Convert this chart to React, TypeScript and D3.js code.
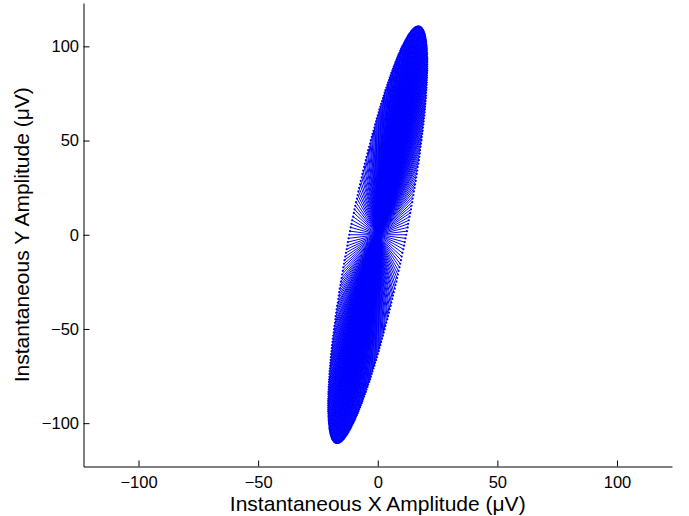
import React, { useEffect, useRef } from "react";
import * as d3 from "d3";

// Axis ticks and limits (µV)
const xTicks = [-100, -50, 0, 50, 100];
const yTicks = [-100, -50, 0, 50, 100];
const xDomain = [-123, 123];
const yDomain = [-123, 123];

// Instantaneous X amplitude samples (µV)
const xSamples = [
  20.7, 20.7, 20.7, 20.7, 20.6, 20.6, 20.6, 20.5, 20.5, 20.4,
  20.4, 20.3, 20.2, 20.2, 20.1, 20.0, 19.9, 19.8, 19.7, 19.6,
  19.5, 19.3, 19.2, 19.1, 18.9, 18.8, 18.6, 18.4, 18.3, 18.1,
  17.9, 17.7, 17.6, 17.4, 17.2, 17.0, 16.7, 16.5, 16.3, 16.1,
  15.9, 15.6, 15.4, 15.1, 14.9, 14.6, 14.4, 14.1, 13.9, 13.6,
  13.3, 13.0, 12.7, 12.5, 12.2, 11.9, 11.6, 11.3, 11.0, 10.7,
  10.3, 10.0, 9.7, 9.4, 9.1, 8.7, 8.4, 8.1, 7.8, 7.4,
  7.1, 6.7, 6.4, 6.1, 5.7, 5.4, 5.0, 4.7, 4.3, 4.0,
  3.6, 3.2, 2.9, 2.5, 2.2, 1.8, 1.4, 1.1, 0.7, 0.4,
  0, -0.4, -0.7, -1.1, -1.4, -1.8, -2.2, -2.5, -2.9, -3.2,
  -3.6, -4.0, -4.3, -4.7, -5.0, -5.4, -5.7, -6.1, -6.4, -6.7,
  -7.1, -7.4, -7.8, -8.1, -8.4, -8.7, -9.1, -9.4, -9.7, -10.0,
  -10.3, -10.7, -11.0, -11.3, -11.6, -11.9, -12.2, -12.5, -12.7, -13.0,
  -13.3, -13.6, -13.9, -14.1, -14.4, -14.6, -14.9, -15.1, -15.4, -15.6,
  -15.9, -16.1, -16.3, -16.5, -16.7, -17.0, -17.2, -17.4, -17.6, -17.7,
  -17.9, -18.1, -18.3, -18.4, -18.6, -18.8, -18.9, -19.1, -19.2, -19.3,
  -19.5, -19.6, -19.7, -19.8, -19.9, -20.0, -20.1, -20.2, -20.2, -20.3,
  -20.4, -20.4, -20.5, -20.5, -20.6, -20.6, -20.6, -20.7, -20.7, -20.7,
  -20.7, -20.7, -20.7, -20.7, -20.6, -20.6, -20.6, -20.5, -20.5, -20.4,
  -20.4, -20.3, -20.2, -20.2, -20.1, -20.0, -19.9, -19.8, -19.7, -19.6,
  -19.5, -19.3, -19.2, -19.1, -18.9, -18.8, -18.6, -18.4, -18.3, -18.1,
  -17.9, -17.7, -17.6, -17.4, -17.2, -17.0, -16.7, -16.5, -16.3, -16.1,
  -15.9, -15.6, -15.4, -15.1, -14.9, -14.6, -14.4, -14.1, -13.9, -13.6,
  -13.3, -13.0, -12.7, -12.5, -12.2, -11.9, -11.6, -11.3, -11.0, -10.7,
  -10.3, -10.0, -9.7, -9.4, -9.1, -8.7, -8.4, -8.1, -7.8, -7.4,
  -7.1, -6.7, -6.4, -6.1, -5.7, -5.4, -5.0, -4.7, -4.3, -4.0,
  -3.6, -3.2, -2.9, -2.5, -2.2, -1.8, -1.4, -1.1, -0.7, -0.4,
  0, 0.4, 0.7, 1.1, 1.4, 1.8, 2.2, 2.5, 2.9, 3.2,
  3.6, 4.0, 4.3, 4.7, 5.0, 5.4, 5.7, 6.1, 6.4, 6.7,
  7.1, 7.4, 7.8, 8.1, 8.4, 8.7, 9.1, 9.4, 9.7, 10.0,
  10.3, 10.7, 11.0, 11.3, 11.6, 11.9, 12.2, 12.5, 12.7, 13.0,
  13.3, 13.6, 13.9, 14.1, 14.4, 14.6, 14.9, 15.1, 15.4, 15.6,
  15.9, 16.1, 16.3, 16.5, 16.7, 17.0, 17.2, 17.4, 17.6, 17.7,
  17.9, 18.1, 18.3, 18.4, 18.6, 18.8, 18.9, 19.1, 19.2, 19.3,
  19.5, 19.6, 19.7, 19.8, 19.9, 20.0, 20.1, 20.2, 20.2, 20.3,
  20.4, 20.4, 20.5, 20.5, 20.6, 20.6, 20.6, 20.7, 20.7, 20.7,
];

// Instantaneous Y amplitude samples (µV)
const ySamples = [
  90.5, 91.6, 92.7, 93.7, 94.7, 95.7, 96.6, 97.6, 98.5, 99.3,
  100.1, 100.9, 101.7, 102.5, 103.2, 103.8, 104.5, 105.1, 105.7, 106.2,
  106.7, 107.2, 107.7, 108.1, 108.5, 108.8, 109.1, 109.4, 109.7, 109.9,
  110.1, 110.2, 110.3, 110.4, 110.5, 110.5, 110.5, 110.4, 110.3, 110.2,
  110.1, 109.9, 109.7, 109.4, 109.1, 108.8, 108.5, 108.1, 107.7, 107.2,
  106.7, 106.2, 105.7, 105.1, 104.5, 103.8, 103.2, 102.5, 101.7, 100.9,
  100.1, 99.3, 98.5, 97.6, 96.6, 95.7, 94.7, 93.7, 92.7, 91.6,
  90.5, 89.4, 88.2, 87.1, 85.9, 84.6, 83.4, 82.1, 80.8, 79.5,
  78.1, 76.8, 75.4, 73.9, 72.5, 71.0, 69.5, 68.0, 66.5, 65.0,
  63.4, 61.8, 60.2, 58.6, 56.9, 55.2, 53.6, 51.9, 50.2, 48.4,
  46.7, 44.9, 43.2, 41.4, 39.6, 37.8, 36.0, 34.1, 32.3, 30.5,
  28.6, 26.7, 24.9, 23.0, 21.1, 19.2, 17.3, 15.4, 13.5, 11.6,
  9.6, 7.7, 5.8, 3.9, 1.9, 0, -1.9, -3.9, -5.8, -7.7,
  -9.6, -11.6, -13.5, -15.4, -17.3, -19.2, -21.1, -23.0, -24.9, -26.7,
  -28.6, -30.5, -32.3, -34.1, -36.0, -37.8, -39.6, -41.4, -43.2, -44.9,
  -46.7, -48.4, -50.2, -51.9, -53.6, -55.2, -56.9, -58.6, -60.2, -61.8,
  -63.4, -65.0, -66.5, -68.0, -69.5, -71.0, -72.5, -73.9, -75.4, -76.8,
  -78.1, -79.5, -80.8, -82.1, -83.4, -84.6, -85.9, -87.1, -88.2, -89.4,
  -90.5, -91.6, -92.7, -93.7, -94.7, -95.7, -96.6, -97.6, -98.5, -99.3,
  -100.1, -100.9, -101.7, -102.5, -103.2, -103.8, -104.5, -105.1, -105.7, -106.2,
  -106.7, -107.2, -107.7, -108.1, -108.5, -108.8, -109.1, -109.4, -109.7, -109.9,
  -110.1, -110.2, -110.3, -110.4, -110.5, -110.5, -110.5, -110.4, -110.3, -110.2,
  -110.1, -109.9, -109.7, -109.4, -109.1, -108.8, -108.5, -108.1, -107.7, -107.2,
  -106.7, -106.2, -105.7, -105.1, -104.5, -103.8, -103.2, -102.5, -101.7, -100.9,
  -100.1, -99.3, -98.5, -97.6, -96.6, -95.7, -94.7, -93.7, -92.7, -91.6,
  -90.5, -89.4, -88.2, -87.1, -85.9, -84.6, -83.4, -82.1, -80.8, -79.5,
  -78.1, -76.8, -75.4, -73.9, -72.5, -71.0, -69.5, -68.0, -66.5, -65.0,
  -63.4, -61.8, -60.2, -58.6, -56.9, -55.2, -53.6, -51.9, -50.2, -48.4,
  -46.7, -44.9, -43.2, -41.4, -39.6, -37.8, -36.0, -34.1, -32.3, -30.5,
  -28.6, -26.7, -24.9, -23.0, -21.1, -19.2, -17.3, -15.4, -13.5, -11.6,
  -9.6, -7.7, -5.8, -3.9, -1.9, 0, 1.9, 3.9, 5.8, 7.7,
  9.6, 11.6, 13.5, 15.4, 17.3, 19.2, 21.1, 23.0, 24.9, 26.7,
  28.6, 30.5, 32.3, 34.1, 36.0, 37.8, 39.6, 41.4, 43.2, 44.9,
  46.7, 48.4, 50.2, 51.9, 53.6, 55.2, 56.9, 58.6, 60.2, 61.8,
  63.4, 65.0, 66.5, 68.0, 69.5, 71.0, 72.5, 73.9, 75.4, 76.8,
  78.1, 79.5, 80.8, 82.1, 83.4, 84.6, 85.9, 87.1, 88.2, 89.4,
];

const xLabel = "Instantaneous X Amplitude (\u03bcV)";
const yLabel = "Instantaneous Y Amplitude (\u03bcV)";

const W = 689;
const H = 516;
const FONT = "'Liberation Sans', Arial, Helvetica, sans-serif";

export default function App() {
  const ref = useRef<SVGSVGElement>(null);

  useEffect(() => {
    const svg = d3.select(ref.current);
    svg.selectAll("*").remove();

    const x = d3.scaleLinear().domain(xDomain).range([83.5, 672]);
    const y = d3.scaleLinear().domain(yDomain).range([466.5, 3]);

    const data = xSamples.map((v, i) => ({ x: v, y: ySamples[i] }));

    const plot = svg.append("g");
    plot
      .selectAll("line.spoke")
      .data(data)
      .join("line")
      .attr("class", "spoke")
      .attr("x1", x(0))
      .attr("y1", y(0))
      .attr("x2", (d) => x(d.x))
      .attr("y2", (d) => y(d.y))
      .attr("stroke", "#0000ff")
      .attr("stroke-width", 1);
    plot
      .selectAll("circle.tip")
      .data(data)
      .join("circle")
      .attr("class", "tip")
      .attr("cx", (d) => x(d.x))
      .attr("cy", (d) => y(d.y))
      .attr("r", 1.1)
      .attr("fill", "#0000ff");

    const fmt = (d: d3.NumberValue) => String(d).replace("-", "\u2212");

    const xAxis = d3
      .axisBottom(x)
      .tickValues(xTicks)
      .tickSizeInner(-6)
      .tickSizeOuter(0)
      .tickPadding(9.5)
      .tickFormat(fmt);
    const gx = svg
      .append("g")
      .attr("transform", `translate(0,${y.range()[0]})`)
      .call(xAxis);

    const yAxis = d3
      .axisLeft(y)
      .tickValues(yTicks)
      .tickSizeInner(-6)
      .tickSizeOuter(0)
      .tickPadding(4.5)
      .tickFormat(fmt);
    const gy = svg
      .append("g")
      .attr("transform", `translate(${x.range()[0]},0)`)
      .call(yAxis);

    [gx, gy].forEach((g) => {
      g.attr("font-family", null).attr("font-size", null);
      g.selectAll("path.domain").attr("stroke", "#000").attr("stroke-width", 1);
      g.selectAll(".tick line").attr("stroke", "#000").attr("stroke-width", 1);
      g.selectAll(".tick text")
        .attr("fill", "#000")
        .style("font-family", FONT)
        .style("font-size", "16.5px");
    });

    svg
      .append("text")
      .attr("x", (x.range()[0] + x.range()[1]) / 2)
      .attr("y", 510.5)
      .attr("text-anchor", "middle")
      .style("font-family", FONT)
      .style("font-size", "21px")
      .attr("fill", "#000")
      .text(xLabel);

    svg
      .append("text")
      .attr("transform", `translate(29,${y(0)}) rotate(-90)`)
      .attr("text-anchor", "middle")
      .style("font-family", FONT)
      .style("font-size", "21px")
      .attr("fill", "#000")
      .text(yLabel);
  }, []);

  return (
    <svg
      ref={ref}
      width={W}
      height={H}
      style={{ position: "absolute", left: 0, top: 0, background: "#fff" }}
    />
  );
}
